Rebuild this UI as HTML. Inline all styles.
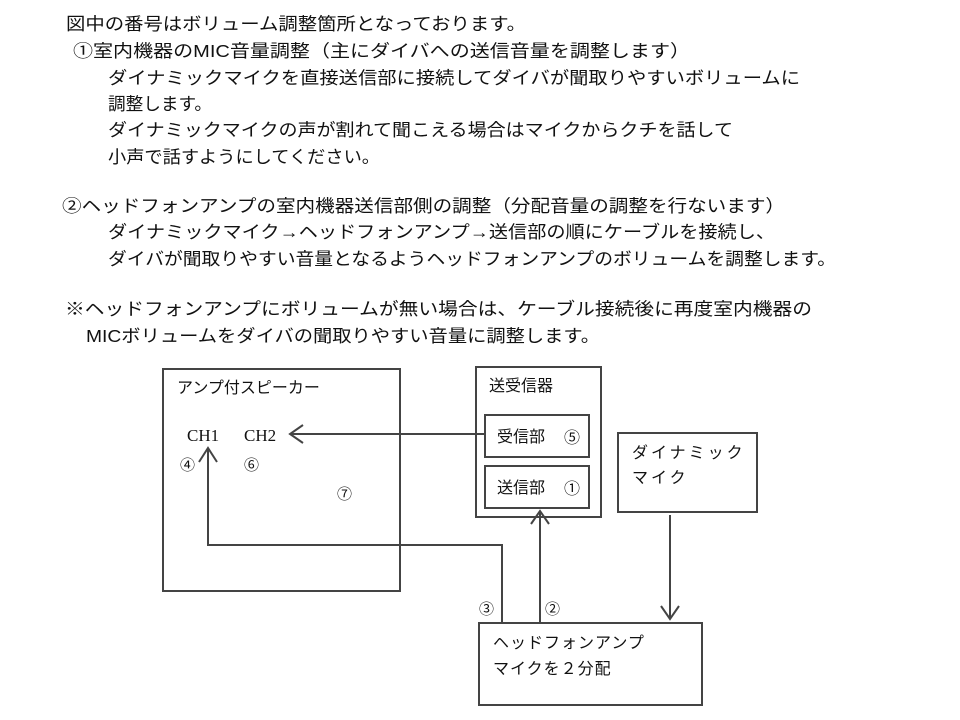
<!DOCTYPE html>
<html><head><meta charset="utf-8"><style>
html,body{margin:0;padding:0;background:#fff;}
svg{display:block;}
text{font-family:"Liberation Sans","Noto Sans CJK JP",sans-serif;fill:#111;}
text.serif{font-family:"Liberation Serif",serif;}
</style></head><body>
<svg width="960" height="720" viewBox="0 0 960 720" xmlns="http://www.w3.org/2000/svg">
<g font-size="17.5">
<text x="66" y="30" textLength="460" lengthAdjust="spacingAndGlyphs">図中の番号はボリューム調整箇所となっております。</text>
<text x="73" y="57" textLength="617" lengthAdjust="spacingAndGlyphs">①室内機器のMIC音量調整（主にダイバへの送信音量を調整します）</text>
<text x="108" y="84" textLength="692" lengthAdjust="spacingAndGlyphs">ダイナミックマイクを直接送信部に接続してダイバが聞取りやすいボリュームに</text>
<text x="108" y="110" textLength="104" lengthAdjust="spacingAndGlyphs">調整します。</text>
<text x="108" y="136" textLength="625" lengthAdjust="spacingAndGlyphs">ダイナミックマイクの声が割れて聞こえる場合はマイクからクチを話して</text>
<text x="108" y="163" textLength="272" lengthAdjust="spacingAndGlyphs">小声で話すようにしてください。</text>
<text x="62" y="212" textLength="723" lengthAdjust="spacingAndGlyphs">②ヘッドフォンアンプの室内機器送信部側の調整（分配音量の調整を行ないます）</text>
<text x="108" y="238" textLength="667" lengthAdjust="spacingAndGlyphs">ダイナミックマイク→ヘッドフォンアンプ→送信部の順にケーブルを接続し、</text>
<text x="108" y="265" textLength="728" lengthAdjust="spacingAndGlyphs">ダイバが聞取りやすい音量となるようヘッドフォンアンプのボリュームを調整します。</text>
<text x="65" y="315" textLength="747" lengthAdjust="spacingAndGlyphs">※ヘッドフォンアンプにボリュームが無い場合は、ケーブル接続後に再度室内機器の</text>
<text x="86" y="342" textLength="514" lengthAdjust="spacingAndGlyphs">MICボリュームをダイバの聞取りやすい音量に調整します。</text>
</g>
<g fill="none" stroke="#444" stroke-width="2">
<rect x="163" y="369" width="237" height="222"/>
<rect x="476" y="367" width="125" height="150"/>
<rect x="485" y="415" width="104" height="42"/>
<rect x="485" y="466" width="104" height="42"/>
<rect x="618" y="433" width="139" height="79"/>
<rect x="479" y="623" width="223" height="82"/>
<path d="M485 434 H290 M303 425 L290 434 L303 443"/>
<path d="M540 622 V511 M531 524 L540 511 L549 524"/>
<path d="M502 623 V545 H208 V448 M199 462 L208 448 L217 462"/>
<path d="M670 515 V619 M661 606 L670 619 L679 606"/>
</g>
<g font-size="16">
<text x="177" y="393">アンプ付スピーカー</text>
<text x="489" y="391">送受信器</text>
<text x="497" y="442">受信部</text>
<text x="497" y="493">送信部</text>
<text x="564" y="443" font-size="16">⑤</text>
<text x="564" y="494" font-size="16">①</text>
<text x="632" y="458" letter-spacing="3">ダイナミック</text>
<text x="632" y="483" letter-spacing="3">マイク</text>
<text x="493" y="648" letter-spacing="1">ヘッドフォンアンプ</text>
<text x="493" y="674" letter-spacing="1">マイクを２分配</text>
<text x="187" y="441" class="serif" font-size="17">CH1</text>
<text x="244" y="441" class="serif" font-size="17">CH2</text>
</g>
<g font-size="15">
<text x="180" y="470">④</text>
<text x="244" y="470">⑥</text>
<text x="337" y="499">⑦</text>
<text x="479" y="614">③</text>
<text x="545" y="614">②</text>
</g>
</svg>
</body></html>
